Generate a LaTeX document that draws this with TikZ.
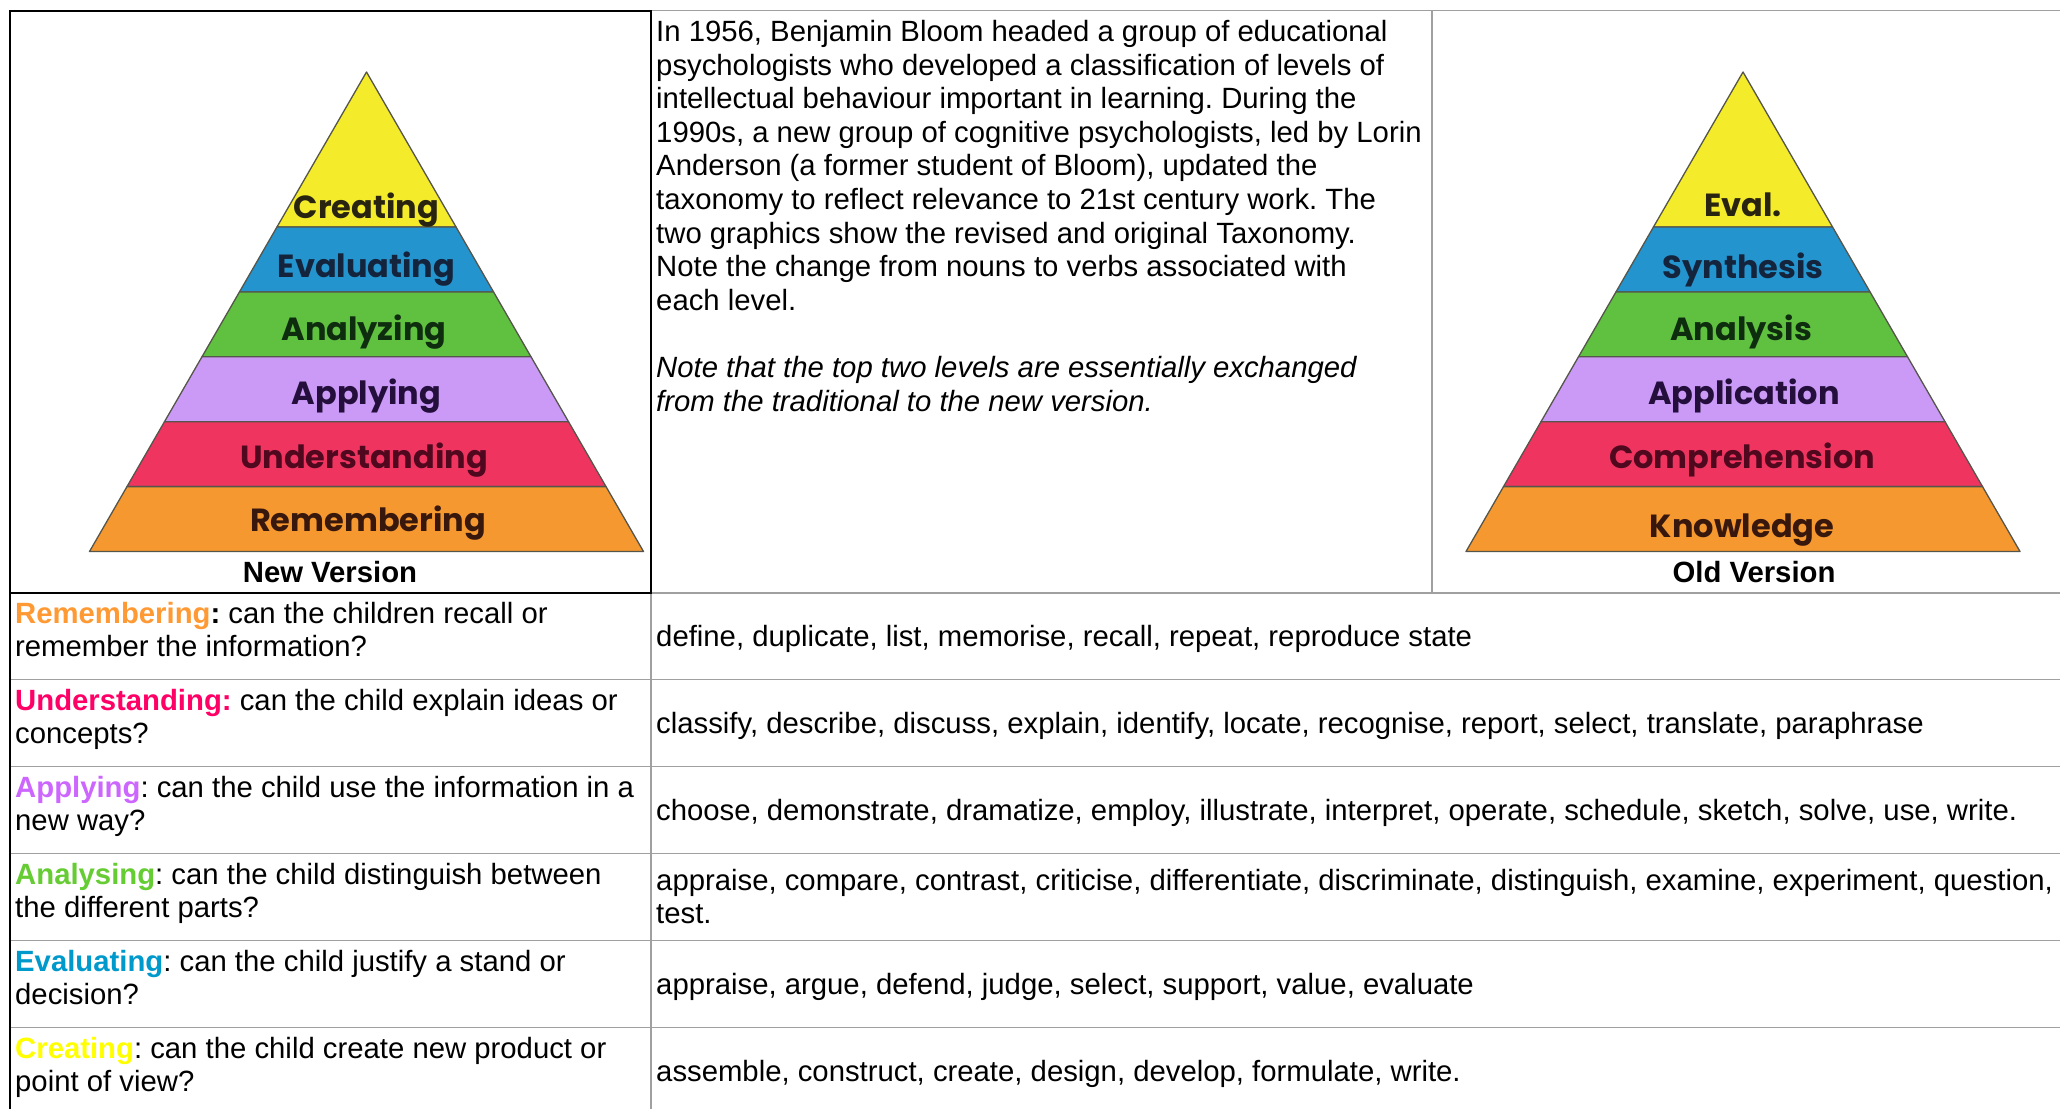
\documentclass[tikz,border=0pt]{standalone}
\usepackage{fontspec}
\setmainfont{Liberation Sans}
\newfontfamily\pyrfont{Poppins}
\definecolor{gridgrey}{RGB}{160,160,160}
\definecolor{pyYel}{RGB}{244,236,42}
\definecolor{pyBlu}{RGB}{36,148,206}
\definecolor{pyGrn}{RGB}{96,192,64}
\definecolor{pyLav}{RGB}{202,154,246}
\definecolor{pyRed}{RGB}{240,52,96}
\definecolor{pyOrg}{RGB}{246,152,48}
\definecolor{pyEdge}{RGB}{85,85,75}
\definecolor{tYel}{RGB}{40,36,16}
\definecolor{tBlu}{RGB}{20,36,60}
\definecolor{tGrn}{RGB}{14,44,14}
\definecolor{tLav}{RGB}{36,14,60}
\definecolor{tRed}{RGB}{80,8,30}
\definecolor{tOrg}{RGB}{56,24,12}
\definecolor{cRem}{RGB}{255,153,51}
\definecolor{cUnd}{RGB}{255,0,102}
\definecolor{cApp}{RGB}{204,102,255}
\definecolor{cAna}{RGB}{102,204,51}
\definecolor{cEva}{RGB}{0,153,204}
\definecolor{cCre}{RGB}{255,255,0}
\frenchspacing
\newcommand\tparbox[2]{\parbox[t]{#1}{\raggedright\frenchspacing\fontsize{29.3}{33.6}\selectfont #2}}
\begin{document}
\begin{tikzpicture}[x=1pt,y=-1pt,
  gridline/.style={draw=gridgrey,line width=1.6pt},
  blackline/.style={draw=black,line width=2.2pt},
  band/.style={draw=pyEdge,line width=1.3pt,line join=round},
  pyrlabel/.style={font=\pyrfont\bfseries\fontsize{32}{38}\selectfont,inner sep=0pt,anchor=center},
  body/.style={inner sep=0pt,anchor=base west},
  caption/.style={inner sep=0pt,anchor=base,font=\bfseries\fontsize{29.3}{33.6}\selectfont}]
\useasboundingbox (0,0) rectangle (2060,1109);
\fill[white] (0,0) rectangle (2060,1109);

% ---------- grid ----------
\draw[gridline] (651,10.5) -- (2060,10.5);
\draw[gridline] (1432,10.5) -- (1432,593);
\draw[gridline] (651,593) -- (2060,593);
\foreach \yy in {679.5,766.5,853.5,940.5,1027.5}
  \draw[gridline] (10,\yy) -- (2060,\yy);
\draw[gridline] (651,593) -- (651,1109);
\draw[blackline] (10,1109) -- (10,11) -- (651,11) -- (651,593) -- (10,593);

% ---------- pyramids ----------
\foreach \cx in {366.5,1743} {
  \begin{scope}[xshift=\cx pt]
  \foreach \t/\b/\c in {72/227/pyYel,227/291.9/pyBlu,291.9/356.8/pyGrn,356.8/421.7/pyLav,421.7/486.6/pyRed,486.6/551.5/pyOrg} {
    \pgfmathsetmacro\wt{0.57768*(\t-72)}
    \pgfmathsetmacro\wb{0.57768*(\b-72)}
    \filldraw[band,fill=\c] (-\wt,\t) -- (\wt,\t) -- (\wb,\b) -- (-\wb,\b) -- cycle;
  }
  \end{scope}
}

% new version labels
\node[pyrlabel,text=tYel] (nCre) at (366.5,210) {Creating};
\node[pyrlabel,text=tBlu] (nEva) at (366.5,269) {Evaluating};
\node[pyrlabel,text=tGrn] (nAna) at (364,332) {Analyzing};
\node[pyrlabel,text=tLav] (nApp) at (366.5,396) {Applying};
\node[pyrlabel,text=tRed] (nUnd) at (364,460) {Understanding};
\node[pyrlabel,text=tOrg] (nRem) at (368,523) {Remembering};
% old version labels
\node[pyrlabel,text=tYel] (oEva) at (1743,205) {Eval.};
\node[pyrlabel,text=tBlu] (oSyn) at (1743,270) {Synthesis};
\node[pyrlabel,text=tGrn] (oAna) at (1741,332) {Analysis};
\node[pyrlabel,text=tLav] (oApp) at (1744,396) {Application};
\node[pyrlabel,text=tRed] (oCom) at (1742,460) {Comprehension};
\node[pyrlabel,text=tOrg] (oKno) at (1742,530) {Knowledge};

\node[caption] (capNew) at (330,582) {New Version};
\node[caption] (capOld) at (1754,582) {Old Version};

% ---------- description ----------
\node[body] (desc) at (656,41.5) {\tparbox{1400pt}{In 1956, Benjamin Bloom headed a group of educational\\
psychologists who developed a classification of levels of\\
intellectual behaviour important in learning. During the\\
1990s, a new group of cognitive psychologists, led by Lorin\\
Anderson (a former student of Bloom), updated the\\
taxonomy to reflect relevance to 21st century work. The\\
two graphics show the revised and original Taxonomy.\\
Note the change from nouns to verbs associated with\\
each level.}};
\node[body] (note) at (656,377.5) {\tparbox{1400pt}{\itshape Note that the top two levels are essentially exchanged\\
from the traditional to the new version.}};

% ---------- rows: left column ----------
\node[body] (qRem) at (15,623) {\tparbox{630pt}{\textbf{\textcolor{cRem}{Remembering}:} can the children recall or\\remember the information?}};
\node[body] (qUnd) at (15,710) {\tparbox{630pt}{\textbf{\textcolor{cUnd}{Understanding:}} can the child explain ideas or\\concepts?}};
\node[body] (qApp) at (15,797) {\tparbox{630pt}{\textbf{\textcolor{cApp}{Applying}}: can the child use the information in a\\new way?}};
\node[body] (qAna) at (15,884) {\tparbox{630pt}{\textbf{\textcolor{cAna}{Analysing}}: can the child distinguish between\\the different parts?}};
\node[body] (qEva) at (15,971) {\tparbox{630pt}{\textbf{\textcolor{cEva}{Evaluating}}: can the child justify a stand or\\decision?}};
\node[body] (qCre) at (15,1058) {\tparbox{630pt}{\textbf{\textcolor{cCre}{Creating}}: can the child create new product or\\point of view?}};

% ---------- rows: right column ----------
\node[body] (vRem) at (656,646) {\tparbox{1400pt}{define, duplicate, list, memorise, recall, repeat, reproduce state}};
\node[body] (vUnd) at (656,733) {\tparbox{1400pt}{classify, describe, discuss, explain, identify, locate, recognise, report, select, translate, paraphrase}};
\node[body] (vApp) at (656,820) {\tparbox{1400pt}{choose, demonstrate, dramatize, employ, illustrate, interpret, operate, schedule, sketch, solve, use, write.}};
\node[body] (vAna) at (656,890) {\tparbox{1400pt}{appraise, compare, contrast, criticise, differentiate, discriminate, distinguish, examine, experiment, question,\\test.}};
\node[body] (vEva) at (656,994) {\tparbox{1400pt}{appraise, argue, defend, judge, select, support, value, evaluate}};
\node[body] (vCre) at (656,1081) {\tparbox{1400pt}{assemble, construct, create, design, develop, formulate, write.}};
\end{tikzpicture}
\end{document}
